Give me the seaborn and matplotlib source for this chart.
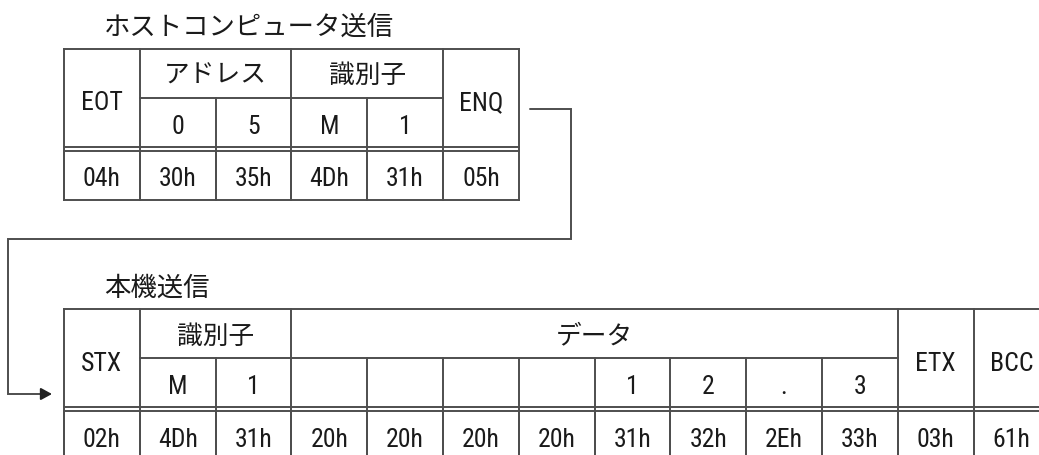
import matplotlib
matplotlib.use("Agg")
import matplotlib.pyplot as plt
from matplotlib import font_manager
import seaborn as sns

# ---------------- data ----------------
top_title = "ホストコンピュータ送信"
top_header = ["EOT", "アドレス", "識別子", "ENQ"]
top_header_span = [1, 2, 2, 1]
top_sub = [None, "0", "5", "M", "1", None]
top_hex = ["04h", "30h", "35h", "4Dh", "31h", "05h"]

bottom_title = "本機送信"
bottom_header = ["STX", "識別子", "データ", "ETX", "BCC"]
bottom_header_span = [1, 2, 8, 1, 1]
bottom_sub = [None, "M", "1", "", "", "", "", "1", "2", ".", "3", None, None]
bottom_hex = ["02h", "4Dh", "31h", "20h", "20h", "20h", "20h",
              "31h", "32h", "2Eh", "33h", "03h", "61h"]

# ---------------- style ----------------
sns.set_theme(style="white")
CJK = "Noto Sans CJK JP"
fonts = font_manager.fontManager.ttflist
names = {f.name for f in fonts}
LAT, LAT_SIZE = "Liberation Sans", 17.5
for cand in ["Liberation Sans Narrow", "Roboto Condensed", "Noto Sans Condensed",
             "DejaVu Sans Condensed", "Open Sans Condensed", "Arimo Narrow"]:
    if cand in names:
        LAT, LAT_SIZE = cand, 18.5
        break
plt.rcParams["font.family"] = [CJK, "DejaVu Sans"]

LINE = "#4e4e4e"
TEXT = "#1a1a1a"
LW = 1.4
CJK_SIZE = 18.5
TITLE_SIZE = 19

fig = plt.figure(figsize=(10.39, 4.55), dpi=100)
ax = fig.add_axes([0, 0, 1, 1])
ax.set_xlim(0, 1039)
ax.set_ylim(455, 0)
ax.axis("off")

X0 = 64.0
CW = 75.8
RH = 49.0
GAP = 4.3


def is_cjk(s):
    return any(ord(c) > 0x2000 for c in s)


def put(x, y, s, dy=0.0):
    if not s:
        return
    if is_cjk(s):
        ax.text(x, y + dy, s, ha="center", va="center_baseline",
                fontsize=CJK_SIZE, color=TEXT, family=[CJK, "DejaVu Sans"])
    else:
        ax.text(x, y + dy + 1.5, s, ha="center", va="center_baseline",
                fontsize=LAT_SIZE, color=TEXT, family=[LAT, "DejaVu Sans"])


def hline(x1, x2, y):
    ax.plot([x1, x2], [y, y], color=LINE, lw=LW, solid_capstyle="projecting")


def vline(x, y1, y2):
    ax.plot([x, x], [y1, y2], color=LINE, lw=LW, solid_capstyle="projecting")


def draw_table(ytop, title, header, span, sub, hexes):
    n = len(hexes)
    xs = [X0 + CW * i for i in range(n + 1)]
    y1 = ytop + RH           # header / sub separator
    y2 = y1 + RH             # first of double line
    y3 = y2 + GAP            # second of double line
    y4 = y3 + RH             # bottom
    ax.text(xs[0] + 40, ytop - 24, title, ha="left", va="center_baseline",
            fontsize=TITLE_SIZE, color=TEXT, family=[CJK, "DejaVu Sans"])
    hline(xs[0], xs[-1], ytop)
    hline(xs[0], xs[-1], y2)
    hline(xs[0], xs[-1], y3)
    hline(xs[0], xs[-1], y4)
    col = 0
    for lab, sp in zip(header, span):
        a, b = xs[col], xs[col + sp]
        vline(a, ytop, y4)
        merged = sp == 1 and sub[col] is None
        if merged:
            put((a + b) / 2, (ytop + y2) / 2, lab, dy=2)
        else:
            put((a + b) / 2, (ytop + y1) / 2, lab)
            hline(a, b, y1)
            for k in range(col, col + sp):
                if k > col:
                    vline(xs[k], y1, y4)
                put((xs[k] + xs[k + 1]) / 2, (y1 + y2) / 2, sub[k], dy=1)
        col += sp
    vline(xs[-1], ytop, y4)
    for k, h in enumerate(hexes):
        vline(xs[k], y3, y4)
        put((xs[k] + xs[k + 1]) / 2, (y3 + y4) / 2, h)
    return xs, ytop, y1, y2


xs_t, t0, t1, t2 = draw_table(48.5, top_title, top_header, top_header_span,
                              top_sub, top_hex)
xs_b, b0, b1, b2 = draw_table(309.0, bottom_title, bottom_header,
                              bottom_header_span, bottom_sub, bottom_hex)

# connector from top table to bottom table
cx1 = xs_t[-1] + 11
cx2 = xs_t[-1] + 52
cy1 = t0 + 60.5
cy2 = 239.0
lx = 8.0
ay = b1 + 36
ax.plot([cx1, cx2, cx2, lx, lx, xs_b[0] - 20],
        [cy1, cy1, cy2, cy2, ay, ay], color=LINE, lw=LW,
        solid_joinstyle="miter")
ax.annotate("", xy=(xs_b[0] - 12, ay), xytext=(xs_b[0] - 22, ay),
            arrowprops=dict(arrowstyle="-|>,head_length=0.55,head_width=0.3",
                            color="#202020", lw=LW, shrinkA=0, shrinkB=0))

fig.savefig("out.png", dpi=100, facecolor="white")
